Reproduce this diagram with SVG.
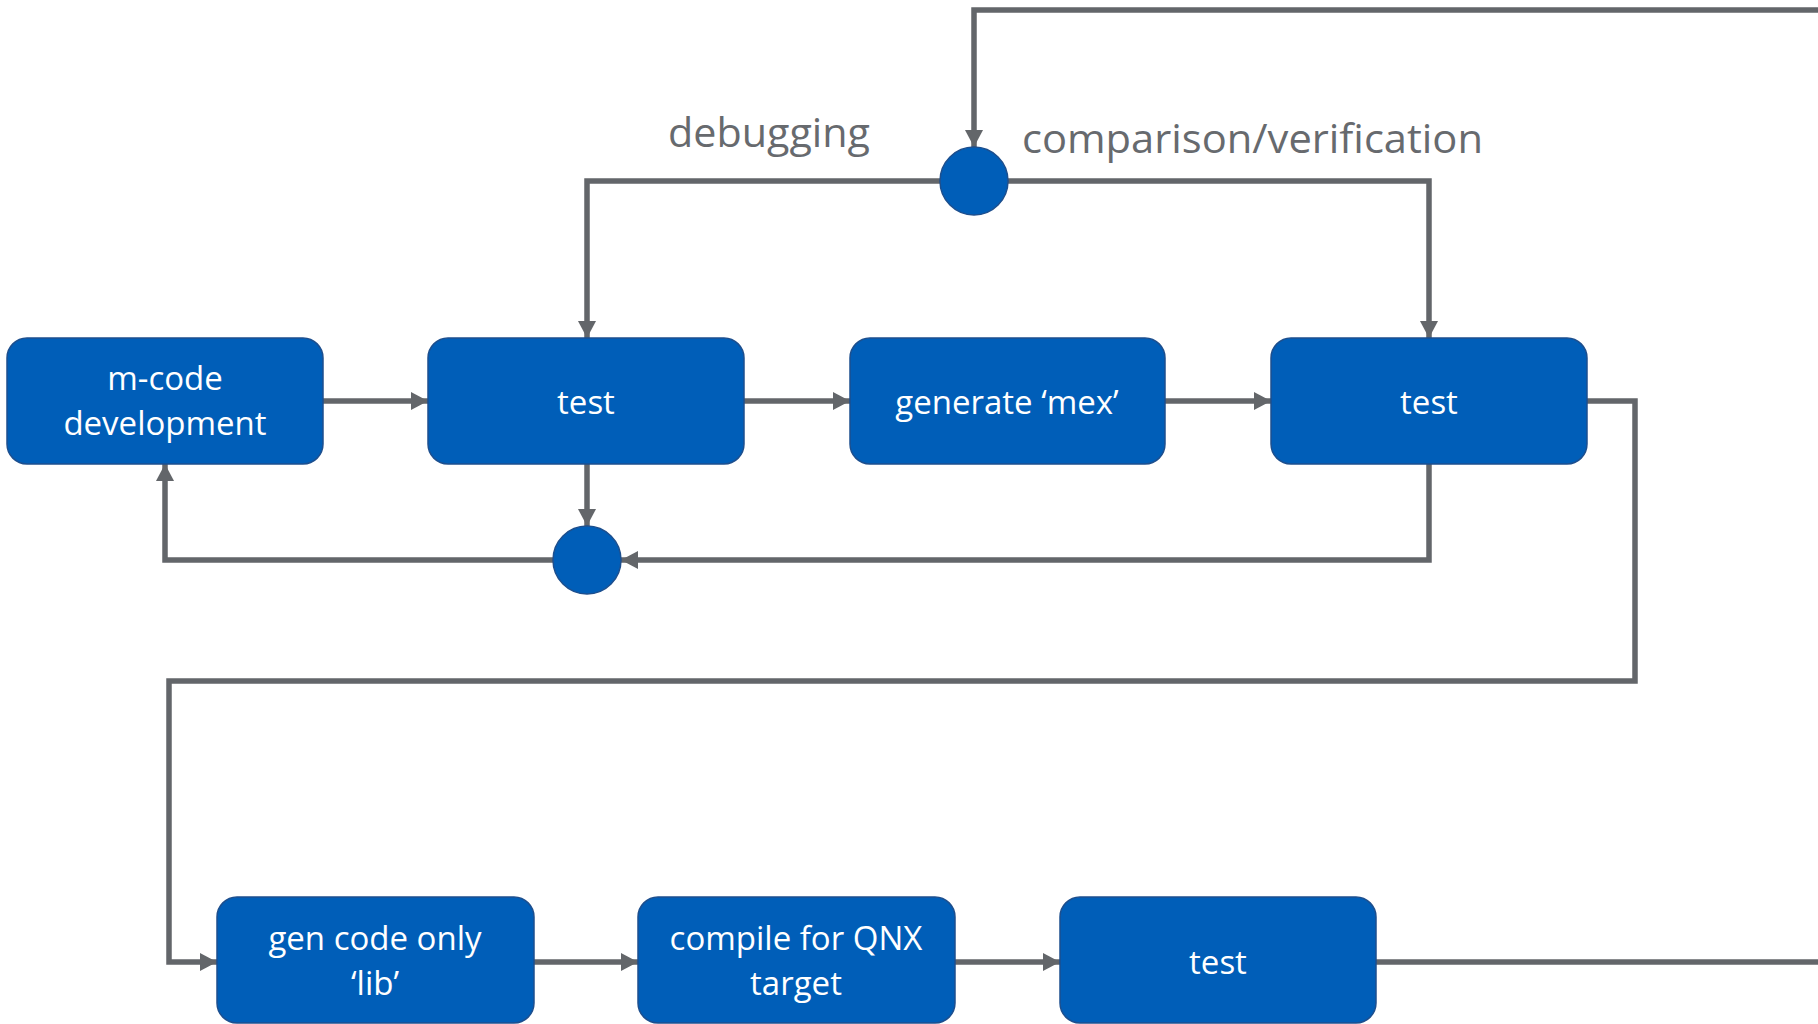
<svg xmlns="http://www.w3.org/2000/svg" width="1818" height="1024" viewBox="0 0 1818 1024">
<style>
.box{fill:#005EB8;stroke:#1d4f8e;stroke-width:1.5}
.dot{fill:#005EB8;stroke:#1d4f8e;stroke-width:1.5}
.nt{font-family:"Open Sans","Noto Sans","Liberation Sans",sans-serif;font-size:33px;fill:#ffffff;text-anchor:middle}
.lbl{font-family:"Open Sans","Noto Sans","Liberation Sans",sans-serif;font-size:41px;fill:#676a6e}
.c{fill:none;stroke:#63666A;stroke-width:5.5}
.ca{fill:none;stroke:#63666A;stroke-width:5.5;marker-end:url(#ah)}
</style>
<defs>
<marker id="ah" markerUnits="userSpaceOnUse" markerWidth="18" markerHeight="19" refX="17" refY="9.5" orient="auto">
<path d="M0,0.5 L17,9.5 L0,18.5 z" fill="#63666A"/>
</marker>
</defs>
<rect width="1818" height="1024" fill="#ffffff"/>
<g id="connectors">
<path class="ca" d="M323,401 H428"/>
<path class="ca" d="M744,401 H850"/>
<path class="ca" d="M1165,401 H1271"/>
<path class="ca" d="M1818,10 H974 V147"/>
<path class="ca" d="M940,181 H587 V338"/>
<path class="ca" d="M1008,181 H1429 V338"/>
<path class="ca" d="M587,464 V526"/>
<path class="ca" d="M1429,464 V560 H621"/>
<path class="ca" d="M553,560 H165 V464"/>
<path class="ca" d="M1587,401 H1635 V681 H169 V962 H217"/>
<path class="ca" d="M534,962 H638"/>
<path class="ca" d="M955,962 H1060"/>
<path class="c" d="M1376,962 H1818"/>
</g>
<g id="label-debugging"><text class="lbl" x="668" y="147" textLength="202" lengthAdjust="spacingAndGlyphs">debugging</text></g>
<g id="label-comparison"><text class="lbl" x="1022" y="153" textLength="461" lengthAdjust="spacingAndGlyphs">comparison/verification</text></g>
<g id="junction-top"><circle class="dot" cx="974" cy="181" r="34"/></g>
<g id="junction-bottom"><circle class="dot" cx="587" cy="560" r="34"/></g>
<g id="node-mcode">
<rect class="box" x="7" y="338" width="316" height="126" rx="20"/>
<text class="nt" x="165" y="390">m-code</text>
<text class="nt" x="165" y="435">development</text>
</g>
<g id="node-test1">
<rect class="box" x="428" y="338" width="316" height="126" rx="20"/>
<text class="nt" x="586" y="414">test</text>
</g>
<g id="node-generate">
<rect class="box" x="850" y="338" width="315" height="126" rx="20"/>
<text class="nt" x="1007" y="414">generate ‘mex’</text>
</g>
<g id="node-test2">
<rect class="box" x="1271" y="338" width="316" height="126" rx="20"/>
<text class="nt" x="1429" y="414">test</text>
</g>
<g id="node-gencode">
<rect class="box" x="217" y="897" width="317" height="126" rx="20"/>
<text class="nt" x="375" y="950">gen code only</text>
<text class="nt" x="375" y="995">‘lib’</text>
</g>
<g id="node-compile">
<rect class="box" x="638" y="897" width="317" height="126" rx="20"/>
<text class="nt" x="796" y="950">compile for QNX</text>
<text class="nt" x="796" y="995">target</text>
</g>
<g id="node-test3">
<rect class="box" x="1060" y="897" width="316" height="126" rx="20"/>
<text class="nt" x="1218" y="974">test</text>
</g>
</svg>
